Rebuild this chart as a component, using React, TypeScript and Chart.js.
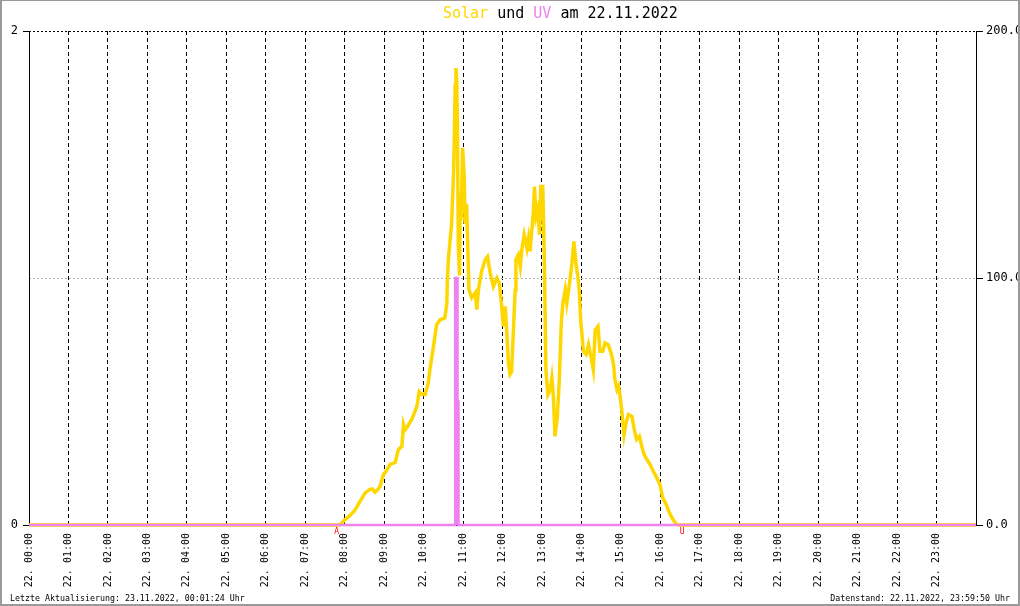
import React, { useEffect, useRef } from 'react';
import { Chart, registerables } from 'chart.js';

Chart.register(...registerables);

// Solar radiation (W/m², right axis) – time in hours of 22.11.2022
const solarTimes = [
  0, 7.88, 8.01, 8.14, 8.26, 8.39, 8.52, 8.64, 8.7, 8.77, 8.85, 8.9, 8.98, 9.06, 9.15, 9.28, 9.36, 9.45, 9.49, 9.53,
  9.57, 9.7, 9.83, 9.89, 9.95, 10.04, 10.12, 10.16, 10.25, 10.33, 10.42, 10.54, 10.59, 10.6, 10.63, 10.67, 10.71,
  10.76, 10.78, 10.8, 10.82, 10.84, 10.86, 10.88, 10.91, 10.93, 10.95, 10.99, 11.03, 11.05, 11.09, 11.12, 11.15,
  11.22, 11.31, 11.35, 11.39, 11.47, 11.56, 11.62, 11.69, 11.77, 11.86, 11.92, 11.98, 12.02, 12.07, 12.11, 12.15,
  12.19, 12.23, 12.28, 12.32, 12.34, 12.4, 12.45, 12.49, 12.55, 12.62, 12.66, 12.7, 12.74, 12.78, 12.81, 12.85,
  12.89, 12.94, 12.97, 13.02, 13.04, 13.06, 13.1, 13.15, 13.21, 13.25, 13.29, 13.33, 13.39, 13.44, 13.49, 13.53,
  13.59, 13.63, 13.7, 13.76, 13.81, 13.87, 13.91, 13.95, 13.98, 14.01, 14.05, 14.12, 14.18, 14.24, 14.3, 14.35,
  14.42, 14.47, 14.54, 14.6, 14.68, 14.75, 14.81, 14.85, 14.9, 14.94, 14.98, 15.02, 15.08, 15.13, 15.19, 15.28,
  15.34, 15.4, 15.47, 15.53, 15.59, 15.66, 15.74, 15.82, 15.91, 15.99, 16.06, 16.15, 16.23, 16.32, 16.4, 16.45, 24,
];
const solarValues = [
  0, 0, 2.2, 4, 6, 9.6, 13, 14.4, 14.6, 13.3, 14.5, 15.7, 20.4, 22, 24.5, 25.3, 30.5, 31.9, 40.7, 38.5,
  39.3, 42.7, 48, 54, 53, 52.8, 57.5, 62.9, 72.3, 81.1, 83.1, 83.8, 89.9, 98, 108, 114.8, 122,
  142.5, 157.3, 178, 185, 180, 157, 114, 101, 134, 123.6, 152.6, 141, 122, 130, 112.8, 95.3,
  92, 94, 87.2, 95.3, 102.7, 107.4, 108.7, 102, 96.6, 100, 98, 88.5, 80.4, 88.5, 77.8, 65.6,
  61, 62, 80, 95, 107.4, 109.4, 104.7, 111.4, 117.5, 112, 116.2, 110.8, 118.9, 126.3, 137, 125,
  127.6, 117.5, 137, 137, 123.6, 107.4, 62.9, 52.8, 54.8, 59.5, 52.1, 35.9, 44, 58.9, 81.8, 89.9,
  95.3, 89.9, 98, 106, 114.8, 104.7, 100.6, 94, 83, 77.8, 70.3, 69, 73, 68.3, 62.9, 79,
  80.4, 70.3, 70.3, 73.7, 73, 69.7, 65.6, 58.9, 54.8, 56.2, 52.1, 46.7, 36.6, 41.3, 44.7, 44,
  38.6, 34.6, 35.9, 31.9, 28.5, 26.5, 24.5, 21.8, 19.1, 16.4, 11, 8.3, 4.9, 2.2, 0.5, 0, 0,
];

// UV index (left axis)
const uvTimes = [0, 10.8, 10.86, 10.885, 24];
const uvValues = [0, 1, 0.5, 0, 0];

const hourTicks = Array.from({ length: 25 }, (_, i) => i);
const xTickLabels = [
  '22. 00:00', '22. 01:00', '22. 02:00', '22. 03:00', '22. 04:00', '22. 05:00', '22. 06:00', '22. 07:00',
  '22. 08:00', '22. 09:00', '22. 10:00', '22. 11:00', '22. 12:00', '22. 13:00', '22. 14:00', '22. 15:00',
  '22. 16:00', '22. 17:00', '22. 18:00', '22. 19:00', '22. 20:00', '22. 21:00', '22. 22:00', '22. 23:00',
];
const uvTicks = [0, 2];
const solarTicks = [0, 100, 200];

const sunMarkerTimes = [7.8, 16.55];
const sunMarkerLabels = ['A', 'U'];

const FONT = '"DejaVu Sans Mono", "Liberation Mono", monospace';

const sunMarkers = {
  id: 'sunMarkers',
  afterDatasetsDraw(chart: any) {
    const { ctx, chartArea } = chart;
    const x = chart.scales.x;
    ctx.save();
    ctx.fillStyle = '#ff0000';
    ctx.font = `8px ${FONT}`;
    ctx.textAlign = 'center';
    ctx.textBaseline = 'top';
    sunMarkerTimes.forEach((t, i) => {
      ctx.fillText(sunMarkerLabels[i], x.getPixelForValue(t), chartArea.bottom + 3);
    });
    ctx.restore();
  },
};

export default function App() {
  const ref = useRef<HTMLCanvasElement>(null);

  useEffect(() => {
    document.body.style.margin = '0';
    const canvas = ref.current;
    if (!canvas) return;
    const chart = new Chart(canvas, {
      type: 'line',
      data: {
        datasets: [
          {
            label: 'UV',
            data: uvTimes.map((t, i) => ({ x: t, y: uvValues[i] })),
            yAxisID: 'y',
            borderColor: '#EE82EE',
            backgroundColor: '#EE82EE',
            borderWidth: 2.5,
            pointRadius: 0,
            stepped: true,
            fill: 'origin',
            clip: false,
            order: 0,
          },
          {
            label: 'Solar',
            data: solarTimes.map((t, i) => ({ x: t, y: solarValues[i] })),
            yAxisID: 'y1',
            borderColor: '#FFD700',
            backgroundColor: '#FFD700',
            borderWidth: 3.5,
            pointRadius: 0,
            tension: 0,
            clip: false,
            order: 1,
          },
        ],
      },
      options: {
        animation: false,
        responsive: false,
        layout: { padding: { top: 31, left: 0, right: 0, bottom: 0 } },
        plugins: {
          legend: { display: false },
          title: { display: false },
          tooltip: { enabled: false },
          filler: { propagate: false },
        },
        scales: {
          x: {
            type: 'linear',
            min: 0,
            max: 24,
            afterBuildTicks: (s: any) => {
              s.ticks = hourTicks.map((v) => ({ value: v }));
            },
            afterFit: (s: any) => {
              s.height = 81;
            },
            ticks: {
              autoSkip: false,
              maxRotation: 90,
              minRotation: 90,
              padding: 8,
              color: '#000',
              font: { family: FONT, size: 10 },
              callback: (v: any) => xTickLabels[v] ?? null,
            },
            grid: {
              color: '#000',
              lineWidth: 1,
              drawTicks: false,
            },
            border: { color: '#000', dash: [4, 3] },
          },
          y: {
            type: 'linear',
            position: 'left',
            min: 0,
            max: 2,
            afterBuildTicks: (s: any) => {
              s.ticks = uvTicks.map((v) => ({ value: v }));
            },
            afterFit: (s: any) => {
              s.width = 29;
            },
            ticks: {
              padding: 5,
              color: '#000',
              font: { family: FONT, size: 12 },
              callback: (v: any) => String(v),
            },
            grid: {
              drawOnChartArea: false,
              tickLength: 6,
              tickColor: '#000',
            },
            border: { color: '#000' },
          },
          y1: {
            type: 'linear',
            position: 'right',
            min: 0,
            max: 200,
            afterBuildTicks: (s: any) => {
              s.ticks = solarTicks.map((v) => ({ value: v }));
            },
            afterFit: (s: any) => {
              s.width = 44;
            },
            ticks: {
              padding: 3,
              color: '#000',
              font: { family: FONT, size: 12 },
              callback: (v: any) => Number(v).toFixed(1),
            },
            grid: {
              color: (c: any) =>
                c.tick && c.tick.value === 100 ? '#b4b4b4' : c.tick && c.tick.value === 200 ? '#000' : 'rgba(0,0,0,0)',
              tickLength: 7,
              tickColor: '#000',
            },
            border: { color: '#000', dash: [2, 2] },
          },
        },
      },
      plugins: [sunMarkers],
    });
    return () => chart.destroy();
  }, []);

  return (
    <div style={{ position: 'fixed', left: 0, top: 0, width: 1020, height: 606, background: '#fff', overflow: 'hidden' }}>
      <canvas ref={ref} width={1020} height={606} style={{ position: 'absolute', left: 0, top: 0, width: 1020, height: 606 }} />
      <div
        style={{
          position: 'absolute',
          left: 443,
          top: 6,
          fontFamily: FONT,
          fontSize: 15,
          lineHeight: '15px',
          whiteSpace: 'pre',
          color: '#000',
        }}
      >
        <span style={{ color: '#FFD700' }}>Solar</span> und <span style={{ color: '#EE82EE' }}>UV</span> am 22.11.2022
      </div>
      <div
        style={{
          position: 'absolute',
          left: 10,
          top: 594,
          fontFamily: FONT,
          fontSize: 8.3,
          lineHeight: '9px',
          whiteSpace: 'pre',
          color: '#000',
        }}
      >
        Letzte Aktualisierung: 23.11.2022, 00:01:24 Uhr
      </div>
      <div
        style={{
          position: 'absolute',
          right: 10,
          top: 594,
          fontFamily: FONT,
          fontSize: 8.3,
          lineHeight: '9px',
          whiteSpace: 'pre',
          color: '#000',
        }}
      >
        Datenstand: 22.11.2022, 23:59:50 Uhr
      </div>
      <div
        style={{
          position: 'absolute',
          left: 0,
          top: 0,
          width: 1020,
          height: 606,
          boxSizing: 'border-box',
          borderLeft: '2px solid #9a9a9a',
          borderRight: '2px solid #9a9a9a',
          borderBottom: '2px solid #9a9a9a',
          borderTop: '1px solid #9a9a9a',
          pointerEvents: 'none',
        }}
      />
    </div>
  );
}
